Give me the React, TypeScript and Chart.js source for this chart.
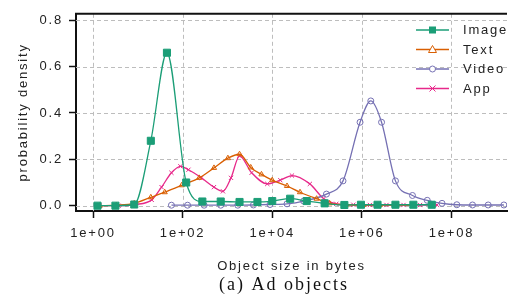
import React, { useEffect, useRef } from "react";
import { Chart, registerables } from "chart.js";

Chart.register(...registerables);

// x values are log10(object size in bytes)
const seriesNames = ["Image", "Text", "Video", "App"];
const seriesColors = ["#1b9e77", "#d95f02", "#7570b3", "#e7298a"];

const imageX = [0.1, 0.5, 0.92, 1.29, 1.65, 2.08, 2.44, 2.85, 3.27, 3.67, 4.0, 4.4, 4.77, 5.17, 5.61, 5.98, 6.35, 6.75, 7.15, 7.56];
const imageY = [0.0, 0.0, 0.005, 0.28, 0.66, 0.1, 0.018, 0.018, 0.016, 0.016, 0.02, 0.03, 0.02, 0.01, 0.003, 0.004, 0.004, 0.004, 0.004, 0.004];

const textX = [0.15, 0.52, 0.92, 1.29, 1.6, 1.98, 2.37, 2.7, 3.01, 3.27, 3.52, 3.76, 4.0, 4.33, 4.62, 4.99, 5.28, 5.65, 6.03, 6.4, 6.77, 7.15];
const textY = [0.0, 0.002, 0.01, 0.036, 0.058, 0.088, 0.12, 0.163, 0.205, 0.222, 0.165, 0.135, 0.11, 0.085, 0.058, 0.03, 0.01, 0.004, 0.003, 0.003, 0.003, 0.003];

const videoX = [1.75, 2.11, 2.48, 2.85, 3.23, 3.58, 3.95, 4.33, 4.7, 5.21, 5.58, 5.96, 6.2, 6.44, 6.75, 7.13, 7.46, 7.79, 8.12, 8.47, 8.82, 9.17];
const videoY = [0.002, 0.002, 0.002, 0.002, 0.002, 0.003, 0.005, 0.008, 0.02, 0.05, 0.107, 0.36, 0.452, 0.36, 0.107, 0.044, 0.023, 0.01, 0.004, 0.003, 0.003, 0.003];

const appX = [0.15, 0.57, 0.94, 1.31, 1.53, 1.75, 1.95, 2.13, 2.42, 2.7, 2.9, 3.08, 3.27, 3.54, 3.89, 4.18, 4.44, 4.84, 5.15, 5.43, 5.81, 6.18, 6.55, 6.93, 7.3, 7.68];
const appY = [0.0, 0.0, 0.005, 0.025, 0.08, 0.142, 0.17, 0.155, 0.12, 0.08, 0.062, 0.12, 0.215, 0.142, 0.094, 0.11, 0.13, 0.094, 0.03, 0.008, 0.004, 0.003, 0.003, 0.003, 0.003, 0.003];

const xTickValues = [0, 2, 4, 6, 8];
const yTickValues = [0, 0.2, 0.4, 0.6, 0.8];

const xTitle = "Object size in bytes";
const yTitle = "probability density";
const caption = "(a) Ad objects";

const pointStyles = ["rect", "triangle", "circle", "crossRot"];

function toPoints(xs: number[], ys: number[]) {
  return xs.map((x, i) => ({ x, y: ys[i] }));
}

function drawMarker(ctx: CanvasRenderingContext2D, style: string, x: number, y: number, color: string) {
  ctx.save();
  ctx.strokeStyle = color;
  ctx.fillStyle = color;
  ctx.lineWidth = 1;
  ctx.beginPath();
  if (style === "rect") {
    ctx.rect(x - 3.5, y - 3.5, 7, 7);
    ctx.fill();
  } else if (style === "triangle") {
    ctx.moveTo(x, y - 4);
    ctx.lineTo(x + 4, y + 3);
    ctx.lineTo(x - 4, y + 3);
    ctx.closePath();
    ctx.fillStyle = "#ffffff";
    ctx.fill();
    ctx.stroke();
  } else if (style === "circle") {
    ctx.arc(x, y, 3, 0, Math.PI * 2);
    ctx.fillStyle = "#ffffff";
    ctx.fill();
    ctx.stroke();
  } else {
    ctx.moveTo(x - 3, y - 3);
    ctx.lineTo(x + 3, y + 3);
    ctx.moveTo(x + 3, y - 3);
    ctx.lineTo(x - 3, y + 3);
    ctx.stroke();
  }
  ctx.restore();
}

export default function App() {
  const ref = useRef<HTMLCanvasElement>(null);

  useEffect(() => {
    const canvas = ref.current;
    if (!canvas) return;
    const FONT = "'Liberation Sans', Arial, sans-serif";
    const SERIF = "'Liberation Serif', 'Times New Roman', serif";
    const LS = "1.8px";

    const spacingPlugin = {
      id: "spacing",
      beforeUpdate(chart: any) {
        chart.ctx.letterSpacing = LS;
      },
      beforeLayout(chart: any) {
        chart.ctx.letterSpacing = LS;
      },
      beforeDraw(chart: any) {
        chart.ctx.letterSpacing = LS;
      },
    };

    const gridPlugin = {
      id: "dashGrid",
      beforeDatasetsDraw(chart: any) {
        const { ctx, chartArea: ca, scales } = chart;
        ctx.save();
        ctx.strokeStyle = "#bdbdbd";
        ctx.lineWidth = 1;
        ctx.setLineDash([4, 3]);
        xTickValues.forEach((v) => {
          const px = Math.round(scales.x.getPixelForValue(v)) + 0.5;
          ctx.beginPath();
          ctx.moveTo(px, ca.top);
          ctx.lineTo(px, ca.bottom);
          ctx.stroke();
        });
        yTickValues.forEach((v) => {
          const py = Math.round(scales.y.getPixelForValue(v)) + 0.5;
          ctx.beginPath();
          ctx.moveTo(ca.left, py);
          ctx.lineTo(ca.right, py);
          ctx.stroke();
        });
        ctx.restore();
      },
    };

    const framePlugin = {
      id: "frame",
      afterDraw(chart: any) {
        const { ctx, chartArea } = chart;
        ctx.save();
        ctx.strokeStyle = "#111";
        ctx.lineWidth = 2;
        ctx.beginPath();
        ctx.moveTo(chartArea.left - 1, chartArea.top);
        ctx.lineTo(chartArea.right, chartArea.top);
        ctx.stroke();
        ctx.letterSpacing = "2px";
        ctx.fillStyle = "#111";
        ctx.font = `18px ${SERIF}`;
        ctx.textAlign = "center";
        ctx.textBaseline = "middle";
        ctx.fillText(caption, 284, 285);
        ctx.restore();
      },
    };

    const legendPlugin = {
      id: "insideLegend",
      afterDraw(chart: any) {
        const ctx = chart.ctx as CanvasRenderingContext2D;
        const rows = [30, 49.5, 69, 88.5];
        ctx.save();
        ctx.letterSpacing = LS;
        seriesNames.forEach((name, i) => {
          const y = rows[i];
          ctx.strokeStyle = seriesColors[i];
          ctx.lineWidth = 1.3;
          ctx.beginPath();
          ctx.moveTo(416, y);
          ctx.lineTo(449, y);
          ctx.stroke();
          drawMarker(ctx, pointStyles[i], 432.5, y, seriesColors[i]);
          ctx.fillStyle = "#222";
          ctx.font = `13px ${FONT}`;
          ctx.textAlign = "left";
          ctx.textBaseline = "middle";
          ctx.fillText(name, 463, y + 0.5);
        });
        ctx.restore();
      },
    };

    const datasets = [
      { label: seriesNames[0], data: toPoints(imageX, imageY), pointStyle: "rect", pointRadius: 5, pointBackgroundColor: seriesColors[0] },
      { label: seriesNames[1], data: toPoints(textX, textY), pointStyle: "triangle", pointRadius: 3, pointBackgroundColor: "rgba(255,255,255,0)" },
      { label: seriesNames[2], data: toPoints(videoX, videoY), pointStyle: "circle", pointRadius: 3, pointBackgroundColor: "rgba(255,255,255,0)" },
      { label: seriesNames[3], data: toPoints(appX, appY), pointStyle: "crossRot", pointRadius: 3, pointBackgroundColor: seriesColors[3] },
    ].map((d, i) => ({
      ...d,
      borderColor: seriesColors[i],
      pointBorderColor: seriesColors[i],
      borderWidth: 1.3,
      pointBorderWidth: 1,
      cubicInterpolationMode: "monotone" as const,
      fill: false,
    }));

    const chart = new Chart(canvas, {
      type: "line",
      data: { datasets },
      plugins: [spacingPlugin, gridPlugin, framePlugin, legendPlugin],
      options: {
        responsive: false,
        animation: false,
        devicePixelRatio: 1,
        layout: { padding: { top: 9, left: 0, right: 0, bottom: 27.6 } },
        plugins: {
          legend: { display: false },
          tooltip: { enabled: false },
          title: { display: false },
        },
        scales: {
          x: {
            type: "linear",
            min: -0.38,
            max: 9.24,
            afterBuildTicks: (s: any) => {
              s.ticks = xTickValues.map((v) => ({ value: v }));
            },
            afterFit: (s: any) => {
              s.height = 63.4;
            },
            ticks: {
              autoSkip: false,
              maxRotation: 0,
              padding: 8,
              color: "#222",
              font: { family: FONT, size: 13 },
              callback: (v: any) => `1e+${String(v).padStart(2, "0")}`,
            },
            grid: { drawOnChartArea: false, color: "#c4c4c4", tickColor: "#111", tickLength: 7, tickWidth: 1.5 },
            border: { display: true, color: "#111", width: 2 },
            title: { display: true, text: xTitle, color: "#222", font: { family: FONT, size: 13 }, padding: { top: 0, bottom: 0 } },
          },
          y: {
            type: "linear",
            min: -0.023,
            max: 0.828,
            afterBuildTicks: (s: any) => {
              s.ticks = yTickValues.map((v) => ({ value: v }));
            },
            afterFit: (s: any) => {
              s.width = 76;
            },
            ticks: {
              padding: 6,
              color: "#222",
              font: { family: FONT, size: 13 },
              callback: (v: any) => Number(v).toFixed(1),
            },
            grid: { drawOnChartArea: false, color: "#c4c4c4", tickColor: "#111", tickLength: 7, tickWidth: 1.5 },
            border: { display: true, color: "#111", width: 2 },
            title: { display: true, text: yTitle, color: "#222", font: { family: FONT, size: 13 }, padding: { top: 16, bottom: 0 } },
          },
        },
      } as any,
    });
    return () => chart.destroy();
  }, []);

  return (
    <div style={{ position: "absolute", left: 0, top: 0, width: 513, height: 302, background: "#fff" }}>
      <canvas ref={ref} width={513} height={302} style={{ width: 513, height: 302 }} />
    </div>
  );
}
